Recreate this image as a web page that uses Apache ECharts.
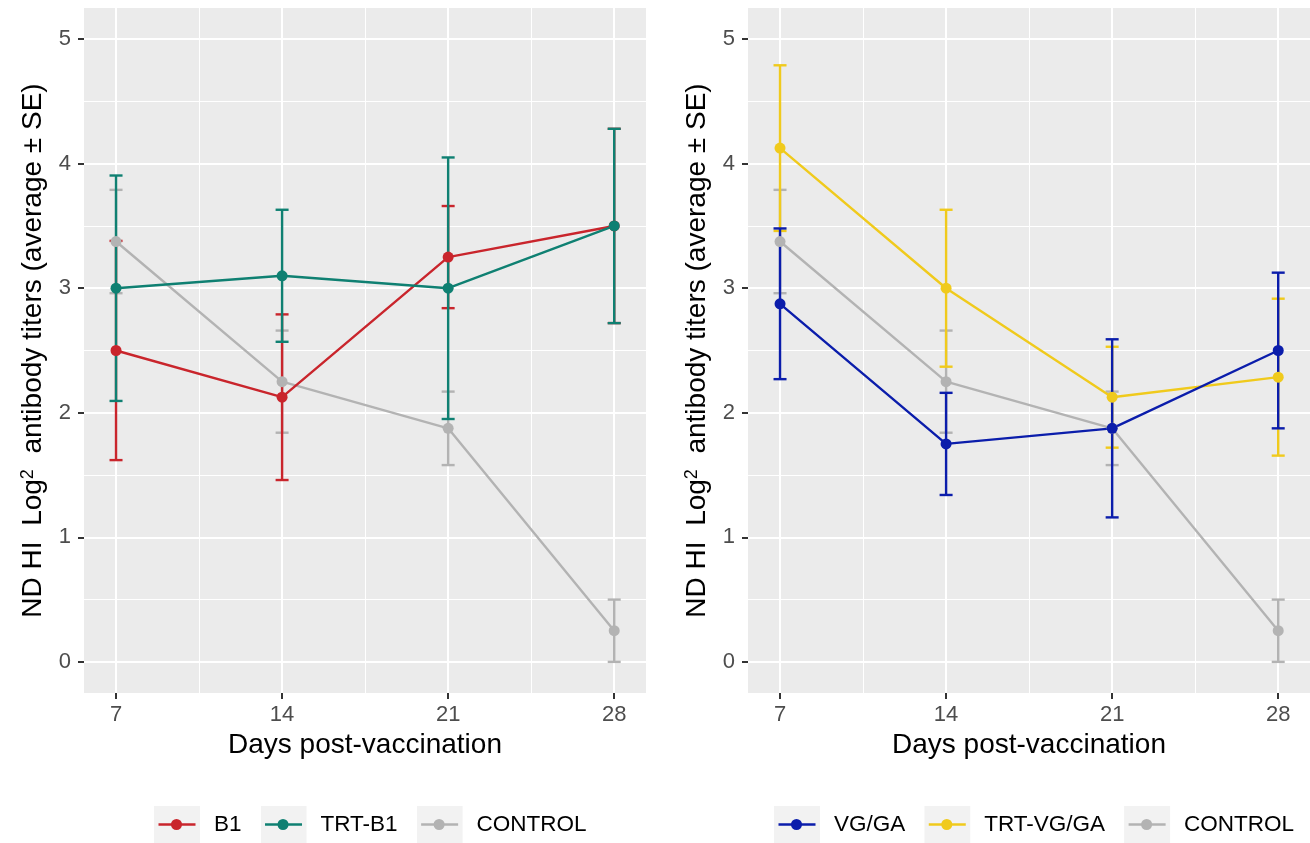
<!DOCTYPE html>
<html>
<head>
<meta charset="utf-8">
<script src="https://cdn.jsdelivr.net/npm/echarts@6/dist/echarts.min.js"></script>
<style>
html,body{margin:0;padding:0;background:#fff;}
#chart{width:1310px;height:843px;}
</style>
</head>
<body>
<div id="chart"></div>
<script>
// ---- data ----
const days = [7, 14, 21, 28];
const yTicks = [0, 1, 2, 3, 4, 5];
const yMinor = [0.5, 1.5, 2.5, 3.5, 4.5];
const xMinor = [10.5, 17.5, 24.5];

const b1Mean = [2.5, 2.125, 3.25, 3.5];
const b1SE = [0.88, 0.665, 0.41, 0.78];
const trtB1Mean = [3.0, 3.1, 3.0, 3.5];
const trtB1SE = [0.905, 0.53, 1.05, 0.78];
const controlMean = [3.375, 2.25, 1.875, 0.25];
const controlSE = [0.415, 0.41, 0.295, 0.25];
const vgMean = [2.875, 1.75, 1.875, 2.5];
const vgSE = [0.605, 0.41, 0.715, 0.625];
const trtVgMean = [4.125, 3.0, 2.125, 2.286];
const trtVgSE = [0.665, 0.63, 0.405, 0.63];

const leftGroups = ['B1', 'TRT-B1', 'CONTROL'];
const rightGroups = ['VG/GA', 'TRT-VG/GA', 'CONTROL'];

const colors = {
  'B1': '#c9252c',
  'TRT-B1': '#0f8072',
  'CONTROL': '#b3b3b3',
  'VG/GA': '#0b1dab',
  'TRT-VG/GA': '#f0ca1c'
};

const FONT = 'Liberation Sans, Arial, Helvetica, sans-serif';
const xMin = 5.65, xMax = 29.34, yMin = -0.25, yMax = 5.25;

function keyIcon(color) {
  const svg = '<svg xmlns="http://www.w3.org/2000/svg" width="55" height="37" viewBox="0 0 55 37">' +
    '<rect x="0" y="0" width="46" height="37" fill="#f2f2f2"/>' +
    '<line x1="4.5" y1="18.5" x2="41.5" y2="18.5" stroke="' + color + '" stroke-width="2.4"/>' +
    '<circle cx="22.5" cy="18.5" r="5.5" fill="' + color + '"/></svg>';
  return 'image://data:image/svg+xml;charset=utf-8,' + encodeURIComponent(svg);
}

function lineSeries(name, mean, gi) {
  return {
    type: 'line', name: name, xAxisIndex: gi * 2, yAxisIndex: gi * 2,
    data: days.map((d, i) => [d, mean[i]]),
    symbol: 'circle', symbolSize: 11, showSymbol: true,
    itemStyle: { color: colors[name] },
    lineStyle: { color: colors[name], width: 2.4 },
    emphasis: { disabled: true }, silent: true
  };
}
function errSeries(name, mean, se, gi) {
  return {
    type: 'custom', name: name, xAxisIndex: gi * 2, yAxisIndex: gi * 2,
    data: days.map((d, i) => [d, mean[i] - se[i], mean[i] + se[i]]),
    silent: true,
    renderItem: function (params, api) {
      const x = api.value(0);
      const lo = api.coord([x, api.value(1)]);
      const hi = api.coord([x, api.value(2)]);
      const hw = 6.5;
      const st = { stroke: colors[name], lineWidth: 2.4, fill: null };
      return {
        type: 'group',
        children: [
          { type: 'line', shape: { x1: lo[0], y1: lo[1], x2: hi[0], y2: hi[1] }, style: st },
          { type: 'line', shape: { x1: lo[0] - hw, y1: lo[1], x2: lo[0] + hw, y2: lo[1] }, style: st },
          { type: 'line', shape: { x1: hi[0] - hw, y1: hi[1], x2: hi[0] + hw, y2: hi[1] }, style: st }
        ]
      };
    }
  };
}

const grids = [
  { left: 84, top: 8, width: 562, height: 685, backgroundColor: '#ebebeb', show: true, borderWidth: 0 },
  { left: 748, top: 8, width: 562, height: 685, backgroundColor: '#ebebeb', show: true, borderWidth: 0 }
];

const xAxes = [], yAxes = [];
[0, 1].forEach(gi => {
  xAxes.push({
    type: 'value', gridIndex: gi, min: xMin, max: xMax, position: 'bottom',
    name: 'Days post-vaccination', nameLocation: 'middle', nameGap: 37,
    nameTextStyle: { fontSize: 28, color: '#000', fontFamily: FONT },
    axisLine: { show: false, onZero: false },
    axisTick: { show: true, length: 6, customValues: days, lineStyle: { color: '#333', width: 2 } },
    axisLabel: { show: true, customValues: days, margin: 11, fontSize: 22, color: '#4d4d4d', fontFamily: FONT },
    splitLine: { show: true, lineStyle: { color: '#fff', width: 2 } }
  });
  xAxes.push({
    type: 'value', gridIndex: gi, min: xMin, max: xMax, position: 'top',
    axisLine: { show: false, onZero: false },
    axisTick: { show: false, customValues: xMinor },
    axisLabel: { show: false, customValues: xMinor },
    splitLine: { show: true, lineStyle: { color: '#fff', width: 1 } }
  });
  yAxes.push({
    type: 'value', gridIndex: gi, min: yMin, max: yMax, position: 'left',
    name: 'ND HI  Log{s|2}  antibody titers (average ± SE)', nameLocation: 'middle', nameRotate: 90, nameGap: 37,
    nameTextStyle: { fontSize: 28, color: '#000', fontFamily: FONT,
      rich: { s: { fontSize: 18, color: '#000', fontFamily: FONT, verticalAlign: 'top' } } },
    axisLine: { show: false, onZero: false },
    axisTick: { show: true, length: 6, customValues: yTicks, lineStyle: { color: '#333', width: 2 } },
    axisLabel: { show: true, customValues: yTicks, margin: 13, fontSize: 22, color: '#4d4d4d', fontFamily: FONT },
    splitLine: { show: true, lineStyle: { color: '#fff', width: 2 } }
  });
  yAxes.push({
    type: 'value', gridIndex: gi, min: yMin, max: yMax, position: 'right',
    axisLine: { show: false, onZero: false },
    axisTick: { show: false, customValues: yMinor },
    axisLabel: { show: false, customValues: yMinor },
    splitLine: { show: true, lineStyle: { color: '#fff', width: 1 } }
  });
});

const series = [
  lineSeries('CONTROL', controlMean, 0), errSeries('CONTROL', controlMean, controlSE, 0),
  lineSeries('B1', b1Mean, 0), errSeries('B1', b1Mean, b1SE, 0),
  lineSeries('TRT-B1', trtB1Mean, 0), errSeries('TRT-B1', trtB1Mean, trtB1SE, 0),
  lineSeries('CONTROL', controlMean, 1), errSeries('CONTROL', controlMean, controlSE, 1),
  lineSeries('TRT-VG/GA', trtVgMean, 1), errSeries('TRT-VG/GA', trtVgMean, trtVgSE, 1),
  lineSeries('VG/GA', vgMean, 1), errSeries('VG/GA', vgMean, vgSE, 1)
];

function legendFor(groups, left) {
  return {
    left: left, top: 806, padding: 0, orient: 'horizontal',
    itemWidth: 55, itemHeight: 37, itemGap: 19, selectedMode: false,
    textStyle: { fontSize: 22.5, color: '#000', fontFamily: FONT },
    data: groups.map(g => ({ name: g, icon: keyIcon(colors[g]) }))
  };
}

const chart = echarts.init(document.getElementById('chart'), null, { renderer: 'canvas' });
chart.setOption({
  animation: false,
  backgroundColor: '#fff',
  grid: grids,
  xAxis: xAxes,
  yAxis: yAxes,
  legend: [legendFor(leftGroups, 154), legendFor(rightGroups, 774)],
  series: series
});
</script>
</body>
</html>
